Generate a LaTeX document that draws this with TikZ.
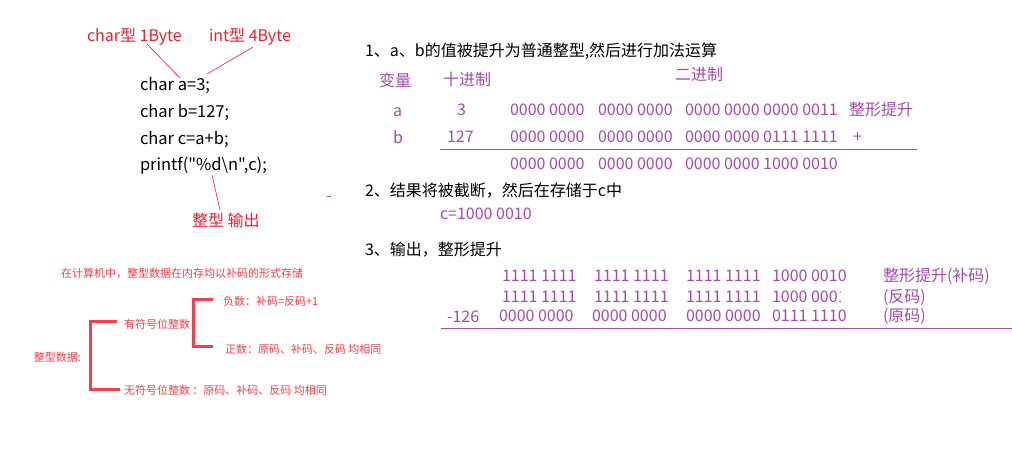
\documentclass[tikz,border=0pt]{standalone}
\usepackage{fontspec}
\setmainfont{Noto Sans CJK SC}
\newfontfamily\plaincode{Noto Sans CJK SC}
\definecolor{annred}{RGB}{235,32,45}
\definecolor{lred}{RGB}{242,64,74}
\definecolor{binpur}{RGB}{165,75,170}
\begin{document}
\begin{tikzpicture}[x=1pt,y=-1pt,
  every node/.style={inner sep=0pt, outer sep=0pt, anchor=base west},
  code/.style={font=\plaincode\fontsize{16.5}{18}\selectfont, text=black},
  ann/.style={font=\fontsize{16}{18}\selectfont, text=annred},
  head/.style={font=\fontsize{16}{18}\selectfont, text=black},
  bin/.style={font=\fontsize{16}{18}\selectfont, text=binpur},
  small/.style={font=\fontsize{11}{13}\selectfont, text=lred},
  lead/.style={draw=annred, line width=0.6pt},
  brack/.style={draw=lred, line width=3pt},
  rule/.style={draw=binpur, line width=0.9pt}]
\useasboundingbox (0,0) rectangle (1012,452);

% ---- code block ----
\node[code] (codeA) at (140,91) {char a=3;};
\node[code] (codeB) at (140,117.5) {char b=127;};
\node[code] (codeC) at (140,144) {char c=a+b;};
\node[code] (codeD) at (140,170.5) {printf("\%d\textbackslash n",c);};

\node[ann] (charlbl) at (87,42) {char型 1Byte};
\node[ann] (intlbl) at (209,42) {int型 4Byte};
\node[ann] (outlbl) at (192,226) {整型 输出};

\coordinate (c1) at (147,44);  \coordinate (c2) at (180,78);
\coordinate (i1) at (253,47);  \coordinate (i2) at (207,74);
\coordinate (o1) at (212,175); \coordinate (o2) at (220,210);
\draw[lead] (c1) -- (c2);
\draw[lead] (i1) -- (i2);
\draw[lead] (o1) -- (o2);

\coordinate (m1) at (327,196); \coordinate (m2) at (331,196);
\draw[draw=binpur, line width=0.8pt] (m1) -- (m2);

% ---- step 1 ----
\node[head] (h1) at (365,57) {1、a、b的值被提升为普通整型,然后进行加法运算};
\node[bin] (var) at (379,86) {变量};
\node[bin] (dec) at (443,85) {十进制};
\node[bin] (binl) at (675,81) {二进制};

\node[bin] (va) at (393,116) {a};
\node[bin] (da) at (457,115) {3};
\node[bin] (a1) at (510,115) {0000 0000};
\node[bin] (a2) at (598,115) {0000 0000};
\node[bin] (a3) at (685,115) {0000 0000 0000 0011};
\node[bin] (a4) at (849,115) {整形提升};

\node[bin] (vb) at (393,143) {b};
\node[bin] (db) at (447,142) {127};
\node[bin] (b1) at (510,142) {0000 0000};
\node[bin] (b2) at (598,142) {0000 0000};
\node[bin] (b3) at (685,142) {0000 0000 0111 1111};
\node[bin] (b4) at (853,142) {+};

\coordinate (r1s) at (440,149); \coordinate (r1e) at (917,149);
\draw[rule] (r1s) -- (r1e);

\node[bin] (s1) at (510,169) {0000 0000};
\node[bin] (s2) at (598,169) {0000 0000};
\node[bin] (s3) at (685,169) {0000 0000 1000 0010};

% ---- step 2 ----
\node[head] (h2) at (365,196) {2、结果将被截断，然后在存储于c中};
\node[bin] (cval) at (440,219) {c=1000 0010};

% ---- step 3 ----
\node[head] (h3) at (365,255) {3、输出，整形提升};

\node[bin] (p1) at (502,281) {1111 1111};
\node[bin] (p2) at (594,281) {1111 1111};
\node[bin] (p3) at (686,281) {1111 1111};
\node[bin] (p4) at (772,281) {1000 0010};
\node[bin] (p5) at (883,281) {整形提升(补码)};

\node[bin] (q1) at (502,302) {1111 1111};
\node[bin] (q2) at (594,302) {1111 1111};
\node[bin] (q3) at (686,302) {1111 1111};
\begin{scope}
  \clip (760,280) rectangle (840,310);
  \node[bin] (q4) at (772,302) {1000 0001};
\end{scope}
\node[bin] (q5) at (883,302) {(反码)};

\node[bin] (neg) at (447,322) {-126};
\node[bin] (t1) at (499,321) {0000 0000};
\node[bin] (t2) at (592,321) {0000 0000};
\node[bin] (t3) at (686,321) {0000 0000};
\node[bin] (t4) at (772,321) {0111 1110};
\node[bin] (t5) at (883,321) {(原码)};

\coordinate (r2s) at (441,328); \coordinate (r2e) at (1012,328);
\draw[rule] (r2s) -- (r2e);

% ---- bottom-left tree ----
\node[small] (note) at (61,277) {在计算机中，整型数据在内存均以补码的形式存储};
\node[small] (root) at (34,361) {整型数据:};
\node[small] (signed) at (124,328) {有符号位整数};
\node[small] (unsigned) at (124,394) {无符号位整数 ：原码、补码、反码 均相同};
\node[small] (negs) at (223,305) {负数：补码=反码+1};
\node[small] (poss) at (225,353) {正数：原码、补码、反码 均相同};

\coordinate (k1t) at (117,321); \coordinate (k1v) at (90,321);
\coordinate (k1b) at (120,389);
\draw[brack] (k1t) -- (k1v) |- (k1b);
\coordinate (k2t) at (213,299); \coordinate (k2v) at (193,299);
\coordinate (k2b) at (213,346);
\draw[brack] (k2t) -- (k2v) |- (k2b);
\end{tikzpicture}
\end{document}
